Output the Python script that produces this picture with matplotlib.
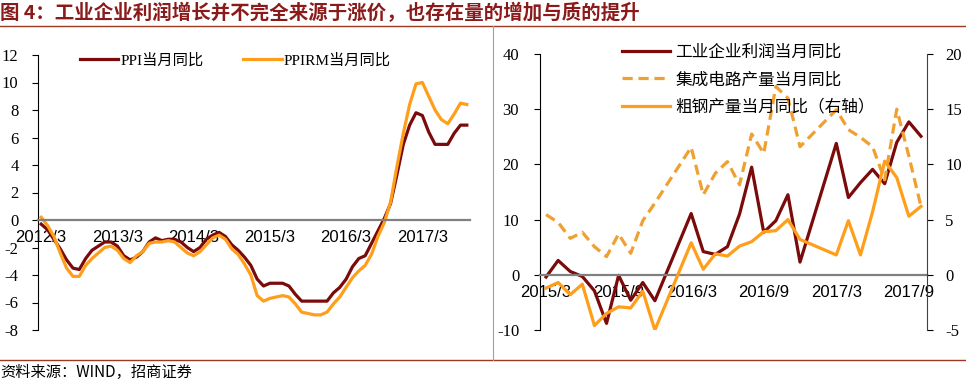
import numpy as np
import pandas as pd
import matplotlib
matplotlib.use('Agg')
import matplotlib.pyplot as plt
from matplotlib.font_manager import FontProperties
from matplotlib.lines import Line2D

plt.rcParams['font.family'] = ['Noto Sans CJK SC', 'DejaVu Sans']
plt.rcParams['axes.unicode_minus'] = False

# ---- left panel data: 2012/3 - 2017/10, monthly ----
left_months = pd.period_range('2012-03', '2017-10', freq='M')
ppi = [-0.3, -0.7, -1.4, -2.1, -2.9, -3.5, -3.6, -2.8, -2.2, -1.9,
       -1.6, -1.6, -1.9, -2.6, -2.9, -2.7, -2.3, -1.6, -1.3, -1.5, -1.4, -1.4,
       -1.6, -2.0, -2.3, -2.0, -1.4, -1.1, -0.9, -1.2, -1.8, -2.2, -2.7, -3.3,
       -4.3, -4.8, -4.6, -4.6, -4.6, -4.8, -5.4, -5.9, -5.9, -5.9, -5.9, -5.9,
       -5.3, -4.9, -4.3, -3.4, -2.8, -2.6, -1.7, -0.8, 0.1, 1.2, 3.3, 5.5,
       6.9, 7.8, 7.6, 6.4, 5.5, 5.5, 5.5, 6.3, 6.9, 6.9]
ppirm = [0.2, -0.4, -1.2, -2.4, -3.5, -4.1, -4.1, -3.3, -2.8, -2.4,
         -2.0, -1.9, -2.2, -2.8, -3.1, -2.6, -2.3, -1.7, -1.6, -1.6, -1.5, -1.6,
         -2.0, -2.4, -2.6, -2.3, -1.8, -1.3, -1.1, -1.4, -2.1, -2.5, -3.2, -4.0,
         -5.5, -5.9, -5.7, -5.6, -5.5, -5.6, -6.1, -6.7, -6.8, -6.9, -6.9, -6.7,
         -6.1, -5.6, -4.9, -4.2, -3.7, -3.3, -2.5, -1.2, -0.2, 1.3, 3.9, 6.3,
         8.4, 9.9, 10.0, 9.0, 8.0, 7.3, 7.0, 7.7, 8.5, 8.4]

# ---- right panel data: 2015/3 - 2017/10, Jan/Feb not published ----
right_months = pd.period_range('2015-03', '2017-10', freq='M')
nan = np.nan
profit = [-0.4, 2.6, 0.6, -0.3, -2.9, -8.8, -0.1, -4.6, -1.4, -4.7,
          nan, nan, 11.1, 4.2, 3.7, 5.1, 11.0, 19.5, 7.7, 9.8, 14.5, 2.3,
          nan, nan, 23.8, 14.0, 16.7, 19.1, 16.5, 24.0, 27.7, 25.1]
ic_output = [10.9, 9.5, 6.6, 7.7, 5.1, 3.3, 7.4, 3.9, 9.8, 13.0,
             nan, nan, 23.1, 14.5, 18.4, 20.5, 16.3, 25.5, 22.0, 34.1, 32.0, 23.2,
             nan, nan, 29.9, 26.3, 24.9, 23.2, 17.2, 30.0, 21.5, 12.4]
steel = [-1.2, -0.7, -1.8, -0.85, -4.6, -3.5, -2.9, -3.0, -1.5, -5.0,
         nan, nan, 2.9, 0.5, 1.9, 1.7, 2.6, 3.0, 3.9, 4.0, 5.0, 3.2,
         nan, nan, 1.8, 4.9, 1.8, 5.7, 10.3, 8.8, 5.3, 6.2]

title = '图 4：工业企业利润增长并不完全来源于涨价，也存在量的增加与质的提升'
source = '资料来源：WIND，招商证券'

DARK = '#7B0A0A'
ORANGE = '#FF9E1B'
ORANGE2 = '#F0A030'

W, H = 966, 380
fig = plt.figure(figsize=(W / 100, H / 100), dpi=100)


def rect(x0, y0, x1, y1):
    return [x0 / W, 1 - y1 / H, (x1 - x0) / W, (y1 - y0) / H]


serif = FontProperties(family=['Liberation Serif', 'Noto Sans CJK SC'], size=12)
sans = FontProperties(family=['Liberation Sans', 'Noto Sans CJK SC'], size=12)


def lab(p):
    return f'{p.year}/{p.month}'


def style_axis(ax):
    ax.spines['top'].set_visible(False)
    ax.spines['bottom'].set_position(('data', 0))
    ax.spines['bottom'].set_color('#808080')
    ax.spines['bottom'].set_linewidth(1.6)
    ax.tick_params(axis='x', length=0, pad=7)
    ax.tick_params(axis='y', direction='out', length=4, width=0.8)
    for t in ax.get_xticklabels():
        t.set_fontproperties(sans)
    for t in ax.get_yticklabels():
        t.set_fontproperties(serif)


# ---------------- left panel ----------------
ax1 = fig.add_axes(rect(38, 55, 470, 330))
x1 = np.arange(len(left_months))
ax1.plot(x1, ppi, color=DARK, lw=2.3, label='PPI当月同比')
ax1.plot(x1, ppirm, color=ORANGE, lw=2.3, label='PPIRM当月同比')
ax1.set_xlim(-0.5, len(left_months) - 0.5)
ax1.set_ylim(-8, 12)
ax1.set_yticks(range(-8, 13, 2))
ax1.set_xticks(x1[::12])
ax1.set_xticklabels([lab(p) for p in left_months[::12]])
ax1.spines['right'].set_visible(False)
ax1.tick_params(axis='y', pad=10)
style_axis(ax1)
leg1 = ax1.legend(loc='upper left', bbox_to_anchor=(80 / W, 1 - 53 / H),
                  bbox_transform=fig.transFigure, ncol=2, frameon=False,
                  prop=FontProperties(family=['Liberation Serif', 'Noto Sans CJK SC'], size=11),
                  handlelength=2.5, handletextpad=0.15, columnspacing=2.6,
                  borderpad=0, borderaxespad=0)

# ---------------- right panel ----------------
ax2 = fig.add_axes(rect(540, 54, 927, 330))
ax3 = ax2.twinx()
x2 = np.arange(len(right_months))
p_arr = np.array(profit)
i_arr = np.array(ic_output)
s_arr = np.array(steel)
m = ~np.isnan(p_arr)
ax2.plot(x2[m], p_arr[m], color=DARK, lw=2.3, label='工业企业利润当月同比')
m = ~np.isnan(i_arr)
ax2.plot(x2[m], i_arr[m], color=ORANGE2, lw=2.3, ls=(0, (3.2, 1.8)),
         label='集成电路产量当月同比')
m = ~np.isnan(s_arr)
ax3.plot(x2[m], s_arr[m], color=ORANGE, lw=2.3, label='粗钢产量当月同比（右轴）')

ax2.set_xlim(-0.5, len(right_months) - 0.5)
ax2.set_ylim(-10, 40)
ax3.set_ylim(-5, 20)
ax2.set_yticks(range(-10, 41, 10))
ax3.set_yticks(range(-5, 21, 5))
ax2.set_xticks(x2[::6])
ax2.set_xticklabels([lab(p) for p in right_months[::6]])
ax2.spines['right'].set_visible(False)
ax2.tick_params(axis='y', pad=11)
style_axis(ax2)
ax3.spines['top'].set_visible(False)
ax3.spines['left'].set_visible(False)
ax3.spines['bottom'].set_visible(False)
ax3.spines['right'].set_color('#404040')
ax3.tick_params(axis='y', direction='out', length=4, width=0.8, pad=9)
for t in ax3.get_yticklabels():
    t.set_fontproperties(serif)

handles = ax2.get_lines() + ax3.get_lines()
ax3.legend(handles, [h.get_label() for h in handles], loc='upper left',
           bbox_to_anchor=(622 / W, 1 - 44 / H), bbox_transform=fig.transFigure,
           frameon=False, prop=FontProperties(family=['Noto Sans CJK SC'], size=12),
           handlelength=2.9, handletextpad=0.3, labelspacing=0.62,
           borderpad=0, borderaxespad=0)

# ---------------- decorations ----------------
fig.text(0, 1 - 13 / H, title, fontsize=14, fontweight='bold', color='#8B1A1A',
         va='center', ha='left')
fig.text(0, 1 - 372 / H, source, fontsize=11, color='black', va='center', ha='left')
fig.add_artist(Line2D([0, 1], [1 - 25.5 / H] * 2, color='#9B3A1E', lw=1.0))
fig.add_artist(Line2D([0, 1], [1 - 360 / H] * 2, color='#9B3A1E', lw=1.0))
fig.add_artist(Line2D([493 / W] * 2, [1 - 26 / H, 1 - 360 / H], color='#A0A0A0', lw=0.8))

fig.savefig('out.png', dpi=100)
